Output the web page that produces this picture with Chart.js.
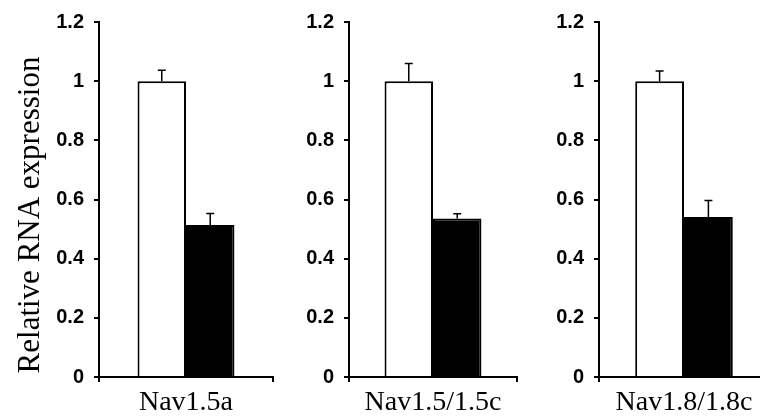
<!DOCTYPE html>
<html>
<head>
<meta charset="utf-8">
<script src="https://cdn.jsdelivr.net/npm/chart.js@4"></script>
<style>
  html, body { margin: 0; padding: 0; background: #fff; overflow: hidden; }
  body { width: 760px; height: 420px; position: relative; }
  .panel { position: absolute; top: 0; height: 420px; }
</style>
</head>
<body>
<div class="panel" id="p0" style="left:0px;width:274px"><canvas id="c0"></canvas></div>
<div class="panel" id="p1" style="left:260px;width:258px"><canvas id="c1"></canvas></div>
<div class="panel" id="p2" style="left:510px;width:260px"><canvas id="c2"></canvas></div>
<script>
const categories = ["Nav1.5a", "Nav1.5/1.5c", "Nav1.8/1.8c"];
const controlValues = [1.0, 1.0, 1.0];
const controlErrors = [0.037, 0.06, 0.034];
const treatedValues = [0.514, 0.536, 0.541];
const treatedErrors = [0.039, 0.016, 0.056];
const tickLabels = ["0", "0.2", "0.4", "0.6", "0.8", "1", "1.2"];

// per-panel layout: y axis box width and share of category used by the two bars
const axisWidths = [99, 89, 89];
const groupShare = [0.557, 0.577, 0.574];

const errorBars = {
  id: "errorBars",
  afterDatasetsDraw(chart) {
    const ctx = chart.ctx;
    const y = chart.scales.y;
    ctx.save();
    ctx.strokeStyle = "#000";
    ctx.lineWidth = 1.5;
    chart.data.datasets.forEach((ds, i) => {
      chart.getDatasetMeta(i).data.forEach((bar, j) => {
        const top = y.getPixelForValue(ds.data[j] + ds.errors[j]);
        ctx.beginPath();
        ctx.moveTo(bar.x, bar.y);
        ctx.lineTo(bar.x, top);
        ctx.moveTo(bar.x - 4, top);
        ctx.lineTo(bar.x + 4, top);
        ctx.stroke();
      });
    });
    ctx.restore();
  },
};

function createPanel(k) {
  return new Chart(document.getElementById("c" + k).getContext("2d"), {
    type: "bar",
    data: {
      labels: [categories[k]],
      datasets: [
        {
          data: [controlValues[k]],
          errors: [controlErrors[k]],
          backgroundColor: "#fff",
          borderColor: "#000",
          borderWidth: 2,
        },
        {
          data: [treatedValues[k]],
          errors: [treatedErrors[k]],
          backgroundColor: "#000",
          borderColor: "#000",
          borderWidth: 2,
        },
      ],
    },
    options: {
      responsive: true,
      maintainAspectRatio: false,
      animation: false,
      layout: { padding: { top: 6, right: 1, bottom: 0, left: 0 } },
      datasets: {
        bar: { barPercentage: 1.0, categoryPercentage: groupShare[k] },
      },
      plugins: {
        legend: { display: false },
        tooltip: { enabled: false },
      },
      scales: {
        x: {
          grid: { drawOnChartArea: false, drawTicks: true, tickLength: 5, color: "#000", lineWidth: 2 },
          border: { color: "#000", width: 2 },
          ticks: {
            color: "#000",
            padding: 4,
            font: { family: "Liberation Serif", size: 28 },
          },
          afterFit(scale) { scale.height = 43; },
        },
        y: {
          min: 0,
          max: 1.2,
          grid: { drawOnChartArea: false, drawTicks: true, tickLength: 5, color: "#000", lineWidth: 2 },
          border: { color: "#000", width: 2 },
          ticks: {
            stepSize: 0.2,
            color: "#000",
            padding: 10,
            font: { family: "Liberation Sans", size: 20, weight: "bold" },
            callback: (v, i) => tickLabels[i],
          },
          title: {
            display: k === 0,
            // trailing spaces nudge the rotated title down like the original
            text: "Relative RNA expression\u00a0\u00a0\u00a0\u00a0",
            color: "#000",
            padding: { top: 12, bottom: 0 },
            font: { family: "Liberation Serif", size: 31 },
          },
          afterFit(scale) { scale.width = axisWidths[k]; },
        },
      },
    },
    plugins: [errorBars],
  });
}

window.addEventListener("load", () => {
  categories.forEach((c, k) => createPanel(k));
});
</script>
</body>
</html>
